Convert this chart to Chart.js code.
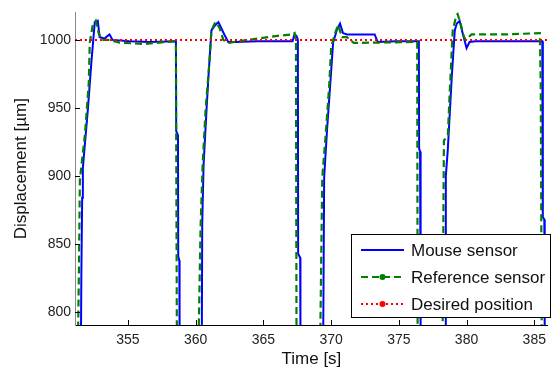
<!DOCTYPE html>
<html>
<head>
<meta charset="utf-8">
<script src="https://cdn.jsdelivr.net/npm/chart.js@4"></script>
<style>
  html, body { margin: 0; padding: 0; background: #fff; }
  #wrap { width: 553px; height: 367px; }
</style>
</head>
<body>
<div id="wrap"><canvas id="grafico"></canvas></div>
<script>
/* ---------- datos ---------- */
const mouseTime = [
  351.54, 351.57, 351.63, 351.68, 352.05, 352.32, 352.56, 352.78, 352.92, 353.29, 353.51, 353.65, 353.87, 355.11, 356.57, 358.55,
  358.57, 358.70, 358.72, 358.80, 358.82,
  360.46, 360.49, 360.59, 360.81, 360.95, 361.17, 361.46, 361.68, 361.83, 362.12, 362.41, 362.93, 364.60, 367.16, 367.30, 367.45, 367.55,
  367.57, 367.72, 367.74,
  369.42, 369.49, 369.71, 369.93, 370.15, 370.45, 370.66, 370.88, 371.17, 372.27, 373.22, 373.44, 374.82, 376.48,
  376.50, 376.57, 376.61,
  378.42, 378.47, 378.62, 378.91, 379.13, 379.28, 379.49, 379.71, 380.00, 380.22, 380.66, 385.48, 385.59,
  385.63, 385.74, 385.77
];
const mouseDisp = [
  780, 829, 884, 906, 949, 985, 1013, 1014, 1002, 1001, 1003, 1004, 1000, 999, 998.5, 999,
  933, 930, 841, 838, 780,
  780, 865, 908, 949, 973, 1007, 1011, 1013, 1010, 1004, 998.5, 998.5, 999, 999, 1004, 1003, 1000,
  843, 840, 780,
  780, 899, 935, 966, 998, 1008, 1012, 1005, 1004, 1004, 1004, 998.5, 999, 999,
  920, 918, 780,
  780, 900, 920, 973, 1007, 1012, 1014, 1005, 994, 998.5, 999, 999, 999,
  870, 868, 780
];

const refTime = [
  351.32, 351.39, 351.46, 351.61, 351.83, 351.98, 352.12, 352.19, 352.41, 352.63, 352.85, 353.07, 353.65, 354.38, 356.20, 357.30, 358.47,
  358.55, 358.58, 358.62,
  360.22, 360.37, 360.52, 360.74, 361.03, 361.17, 361.46, 361.76, 362.05, 362.49, 363.14, 364.60, 366.06, 367.16, 367.31,
  367.41, 367.45,
  369.20, 369.35, 369.57, 369.86, 370.01, 370.30, 370.52, 370.81, 371.17, 371.68, 373.36, 376.36,
  376.39,
  378.23, 378.33, 378.62, 378.76, 378.98, 379.20, 379.34, 379.56, 379.78, 379.93, 380.37, 382.85, 385.41,
  385.48, 385.55
];
const refDisp = [
  780, 830, 897, 911, 930, 950, 969, 998, 1011, 1014, 1005, 1000, 1000, 998, 997, 998, 999,
  995, 900, 780,
  780, 863, 908, 949, 985, 1007, 1013, 1009, 1000, 997.8, 999, 1001, 1003, 1004, 1005,
  1000, 780,
  780, 899, 926, 966, 995, 1005, 1011, 1002, 1002, 997.8, 998, 998.5,
  780,
  780, 926, 930, 962, 1007, 1016, 1019, 1012, 1003, 1000, 1004, 1004, 1005,
  964, 780
];

const desiredTime = [351.1, 386.0];
const desiredDisp = [1000, 1000];

const xTicks = [355, 360, 365, 370, 375, 380, 385];
const yTicks = [800, 850, 900, 950, 1000];

const series = ["Mouse sensor", "Reference sensor", "Desired position"];

/* ---------- helpers ---------- */
const pares = (xs, ys) => xs.map((x, i) => ({ x, y: ys[i] }));
const FUENTE = "'Liberation Sans', Arial, sans-serif";
const AZUL = "#0000ff", VERDE = "#008000", ROJO = "#ff0000";

/* ticks hacia adentro (estilo MATLAB) */
const ticksAdentro = {
  id: 'ticksAdentro',
  afterDatasetsDraw(chart) {
    const { ctx, chartArea: a, scales: { x, y } } = chart;
    ctx.save();
    ctx.strokeStyle = '#000';
    ctx.lineWidth = 1;
    ctx.beginPath();
    xTicks.forEach(t => {
      const px = Math.round(x.getPixelForValue(t)) + 0.5;
      ctx.moveTo(px, a.bottom);
      ctx.lineTo(px, a.bottom - 5);
    });
    yTicks.forEach(t => {
      const py = Math.round(y.getPixelForValue(t)) + 0.5;
      ctx.moveTo(a.left, py);
      ctx.lineTo(a.left + 5, py);
    });
    ctx.stroke();
    ctx.restore();
  }
};

/* leyenda dentro del área del gráfico */
const leyenda = {
  id: 'leyenda',
  afterDraw(chart) {
    const { ctx } = chart;
    const bx = 351.5, by = 234.5, bw = 199, bh = 83;
    ctx.save();
    ctx.fillStyle = '#fff';
    ctx.fillRect(bx, by, bw, bh);
    ctx.strokeStyle = '#000';
    ctx.lineWidth = 1;
    ctx.strokeRect(bx, by, bw, bh);

    const estilos = [
      { color: AZUL, dash: [], punto: false },
      { color: VERDE, dash: [7, 4], punto: true },
      { color: ROJO, dash: [2, 3], punto: true }
    ];
    const filas = [250, 277, 304];
    estilos.forEach((e, i) => {
      const yy = filas[i];
      ctx.beginPath();
      ctx.setLineDash(e.dash);
      ctx.strokeStyle = e.color;
      ctx.lineWidth = 2;
      ctx.moveTo(361, yy);
      ctx.lineTo(404, yy);
      ctx.stroke();
      ctx.setLineDash([]);
      if (e.punto) {
        ctx.beginPath();
        ctx.fillStyle = e.color;
        ctx.arc(382.5, yy, 3, 0, Math.PI * 2);
        ctx.fill();
      }
      ctx.fillStyle = '#111';
      ctx.font = `17px ${FUENTE}`;
      ctx.textBaseline = 'middle';
      ctx.fillText(series[i], 411, yy + 1);
    });
    ctx.restore();
  }
};

/* ---------- gráfico ---------- */
new Chart(document.getElementById('grafico'), {
  type: 'line',
  data: {
    datasets: [
      {
        label: series[0],
        data: pares(mouseTime, mouseDisp),
        borderColor: AZUL,
        borderWidth: 2,
        pointRadius: 0,
        tension: 0,
        order: 3
      },
      {
        label: series[1],
        data: pares(refTime, refDisp),
        borderColor: VERDE,
        borderWidth: 2.2,
        borderDash: [7, 4],
        pointRadius: 0,
        tension: 0,
        order: 2
      },
      {
        label: series[2],
        data: pares(desiredTime, desiredDisp),
        borderColor: ROJO,
        borderWidth: 2,
        borderDash: [2, 3],
        pointRadius: 0,
        tension: 0,
        order: 1
      }
    ]
  },
  options: {
    responsive: true,
    maintainAspectRatio: false,
    animation: false,
    events: [],
    layout: { padding: { top: 7, right: 1, left: 11, bottom: -3 } },
    plugins: { legend: { display: false }, tooltip: { enabled: false } },
    scales: {
      x: {
        type: 'linear',
        min: 351.1,
        max: 386.0,
        afterFit: s => { s.height = 45; },
        afterBuildTicks: s => { s.ticks = xTicks.map(v => ({ value: v })); },
        grid: { display: false, drawTicks: false },
        border: { display: true, color: '#000', width: 1 },
        ticks: { color: '#222', font: { family: FUENTE, size: 14 }, padding: 7, maxRotation: 0, callback: v => String(v) },
        title: { display: true, text: 'Time [s]', color: '#111', font: { family: FUENTE, size: 17 }, padding: { top: 0, bottom: 0 } }
      },
      y: {
        type: 'linear',
        min: 790.6,
        max: 1020.2,
        afterFit: s => { s.width = 64; },
        afterBuildTicks: s => { s.ticks = yTicks.map(v => ({ value: v })); },
        grid: { display: false, drawTicks: false },
        border: { display: true, color: '#888', width: 1 },
        ticks: { color: '#222', font: { family: FUENTE, size: 14 }, padding: 4, callback: v => String(v) },
        title: { display: true, text: 'Displacement [µm]', color: '#111', font: { family: FUENTE, size: 17 }, padding: { top: 0, bottom: 0 } }
      }
    }
  },
  plugins: [ticksAdentro, leyenda]
});
</script>
</body>
</html>
